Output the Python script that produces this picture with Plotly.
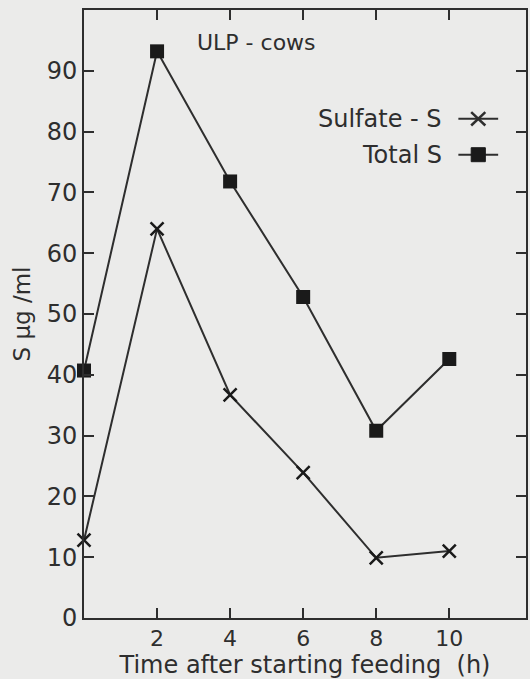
import plotly.graph_objects as go

time_h = [0, 2, 4, 6, 8, 10]
total_s = [40.7, 93.2, 71.8, 52.8, 30.8, 42.6]
sulfate_s = [12.8, 64.0, 36.7, 23.9, 9.9, 11.0]
x_ticks = [2, 4, 6, 8, 10]
y_ticks = [0, 10, 20, 30, 40, 50, 60, 70, 80, 90]

ink = "#2e2e2e"
bg = "#ebebea"
font = "DejaVu Sans"

fig = go.Figure()
fig.add_trace(go.Scatter(x=time_h, y=total_s, mode="lines+markers", name="Total S",
                         line=dict(color=ink, width=2),
                         marker=dict(symbol="square", size=14, color="#1a1a1a"),
                         cliponaxis=False))
fig.add_trace(go.Scatter(x=time_h, y=sulfate_s, mode="lines+markers", name="Sulfate - S",
                         line=dict(color=ink, width=2),
                         marker=dict(symbol="x-thin", size=13, line=dict(color="#1a1a1a", width=2.5)),
                         cliponaxis=False))

axis_common = dict(showline=True, linecolor=ink, linewidth=2, mirror="ticks",
                   ticks="inside", ticklen=10, tickwidth=2, tickcolor=ink,
                   showgrid=False, zeroline=False)

fig.update_xaxes(range=[0, 12.1], tickvals=x_ticks, ticktext=[str(v) for v in x_ticks],
                 tickfont=dict(family=font, size=22, color=ink),
                 title=dict(text="Time after starting feeding  (h)", standoff=0,
                            font=dict(family=font, size=24, color=ink)),
                 **axis_common)
fig.update_yaxes(range=[0, 100], tickvals=y_ticks, ticktext=[str(v) for v in y_ticks],
                 tickfont=dict(family=font, size=24, color=ink),
                 title=dict(text="S µg /ml", standoff=10,
                            font=dict(family=font, size=23, color=ink)),
                 **axis_common)

fig.add_annotation(x=0.25, y=0.947, xref="paper", yref="paper", text="ULP - cows",
                   showarrow=False, xanchor="left", yanchor="middle",
                   font=dict(family=font, size=22, color=ink))

leg_items = [("Sulfate - S", 0.821), ("Total S", 0.762)]
for txt, yy in leg_items:
    fig.add_annotation(x=0.815, y=yy, xref="paper", yref="paper", text=txt,
                       showarrow=False, xanchor="right", yanchor="middle",
                       font=dict(family=font, size=24, color=ink))
for _, yy in leg_items:
    fig.add_shape(type="line", xref="paper", yref="paper", x0=0.847, x1=0.937, y0=yy, y1=yy,
                  line=dict(color=ink, width=2))
fig.add_shape(type="line", xref="paper", yref="paper", x0=0.876, x1=0.908, y0=0.810, y1=0.832,
              line=dict(color=ink, width=2.5))
fig.add_shape(type="line", xref="paper", yref="paper", x0=0.876, x1=0.908, y0=0.832, y1=0.810,
              line=dict(color=ink, width=2.5))
fig.add_shape(type="rect", xref="paper", yref="paper", x0=0.876, x1=0.908, y0=0.7505, y1=0.7735,
              line=dict(color="#1a1a1a", width=1), fillcolor="#1a1a1a")

fig.update_layout(width=530, height=679, showlegend=False,
                  paper_bgcolor=bg, plot_bgcolor=bg,
                  margin=dict(l=84, r=2, t=10, b=61),
                  font=dict(family=font, color=ink))

fig.write_html("out.html", config={"displayModeBar": False},
               post_script="document.body.style.margin='0';document.body.style.background='%s';" % bg)
